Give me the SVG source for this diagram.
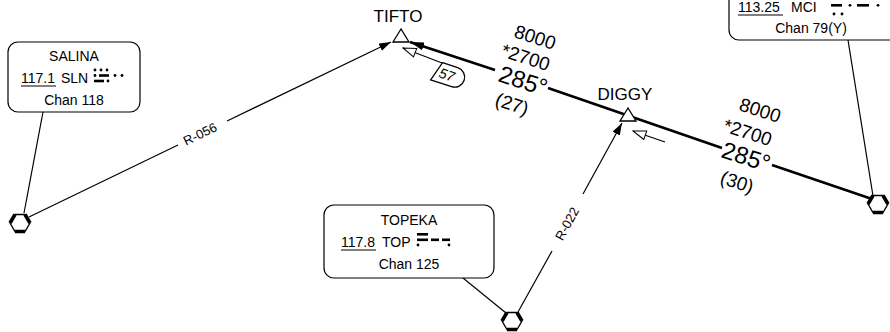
<svg xmlns="http://www.w3.org/2000/svg" width="890" height="332" viewBox="0 0 890 332">
<style>
text{font-family:"Liberation Sans",Arial,sans-serif;fill:#000}
.box{fill:#fff;stroke:#000;stroke-width:1.2}
.t14{font-size:14px}
.mid{text-anchor:middle}
.thin{fill:none;stroke:#000;stroke-width:1.2}
.thick{fill:none;stroke:#000;stroke-width:2.6}
.fix{fill:#fff;stroke:#000;stroke-width:1.3}
.alt{font-size:19px}
.crs{font-size:24px}
.lbl{font-size:13px}
</style>
<defs>
<marker id="fa" viewBox="0 0 12 8" refX="12" refY="4" markerWidth="12" markerHeight="8" orient="auto" markerUnits="userSpaceOnUse"><path d="M0,0 L12,4 L0,8 Z" fill="#000"/></marker>
<marker id="fb" viewBox="0 0 14 8" refX="14" refY="4" markerWidth="14" markerHeight="8" orient="auto" markerUnits="userSpaceOnUse"><path d="M0,0 L14,4 L0,8 Z" fill="#000"/></marker>
<marker id="oa" viewBox="-1 -1 15 11" refX="13" refY="4.5" markerWidth="15" markerHeight="11" orient="auto" markerUnits="userSpaceOnUse"><path d="M0,0 L13,4.5 L0,9 Z" fill="#fff" stroke="#000" stroke-width="1"/></marker>
<g id="vor">
<polygon points="-10,0 -5,-8.5 5,-8.5 10,0 5,8.5 -5,8.5" fill="#fff" stroke="#000" stroke-width="1.3"/>
<path d="M-10,0 L-5,-8.5 M5,-8.5 L10,0 M5,8.5 L-5,8.5" stroke="#000" stroke-width="3.6" fill="none"/>
</g>
</defs>

<g id="connectors">
<line class="thick" x1="495" y1="70" x2="410" y2="42" marker-end="url(#fb)"/>
<line class="thick" x1="548" y1="88" x2="722" y2="148"/>
<line class="thick" x1="772" y1="165" x2="872" y2="199"/>
<line class="thin" x1="29" y1="217" x2="178" y2="145"/>
<line class="thin" x1="227" y1="121" x2="391" y2="42" marker-end="url(#fa)"/>
<line class="thin" x1="518" y1="312" x2="552" y2="251"/>
<line class="thin" x1="583" y1="194" x2="622" y2="123" marker-end="url(#fa)"/>
<line class="thin" x1="43" y1="112" x2="24" y2="213"/>
<line class="thin" x1="463" y1="278" x2="506" y2="313"/>
<line class="thin" x1="848" y1="40" x2="873" y2="196"/>
<line class="thin" x1="442" y1="63" x2="403" y2="48" marker-end="url(#oa)"/>
<line class="thin" x1="665" y1="142" x2="633" y2="131" marker-end="url(#oa)"/>
</g>

<g id="leg1-labels">
<text class="alt" transform="translate(513,37) rotate(18)">8000</text>
<text class="alt" transform="translate(500,56) rotate(18)">*2700</text>
<text class="crs" transform="translate(497,81) rotate(18)">285°</text>
<text class="alt" transform="translate(494,105) rotate(18)">(27)</text>
</g>
<g id="leg2-labels">
<text class="alt" transform="translate(738,110) rotate(18)">8000</text>
<text class="alt" transform="translate(722,131) rotate(18)">*2700</text>
<text class="crs" transform="translate(720,157) rotate(18)">285°</text>
<text class="alt" transform="translate(719,183) rotate(18)">(30)</text>
</g>

<g id="r056-label"><text class="lbl mid" transform="translate(202,138) rotate(-26)">R-056</text></g>
<g id="r022-label"><text class="lbl mid" transform="translate(571,226) rotate(-61)">R-022</text></g>

<g id="mea-57">
<g transform="translate(448,75) rotate(18)">
<path d="M-9,-10 L7,-10 A10,10 0 0 1 7,10 L-15,10 Z" class="fix" stroke-width="1"/>
<text class="mid" x="-1" y="5" font-size="14" font-style="italic">57</text>
</g>
</g>

<g id="TIFTO">
<polygon class="fix" points="401,29 393,42 409,42"/>
<text x="398" y="22" class="mid" font-size="17">TIFTO</text>
</g>

<g id="DIGGY">
<polygon class="fix" points="628,108 620,121 636,121"/>
<text x="625" y="100" class="mid" font-size="17">DIGGY</text>
</g>

<g id="SALINA">
<rect class="box" x="8" y="42" width="132" height="70" rx="10"/>
<text class="t14 mid" x="74" y="61">SALINA</text>
<text class="t14" x="21" y="83">117.1</text>
<line x1="21" y1="86" x2="56" y2="86" stroke="#000" stroke-width="1"/>
<text class="t14" x="61" y="83">SLN</text>
<g fill="#000">
<circle cx="95" cy="70" r="1.4"/><circle cx="101" cy="70" r="1.4"/><circle cx="107" cy="70" r="1.4"/>
<circle cx="95" cy="75.5" r="1.4"/><rect x="99" y="74.2" width="10" height="2.6"/><circle cx="115" cy="75.5" r="1.4"/><circle cx="122" cy="75.5" r="1.4"/>
<rect x="94" y="79.7" width="10" height="2.6"/><circle cx="108" cy="81" r="1.4"/>
</g>
<text class="t14 mid" x="74" y="105">Chan 118</text>
</g>
<g id="SALINA-VOR"><use href="#vor" x="20" y="223"/></g>

<g id="TOPEKA">
<rect class="box" x="324" y="205" width="170" height="73" rx="10"/>
<text class="t14 mid" x="409" y="225">TOPEKA</text>
<text class="t14" x="341" y="247">117.8</text>
<line x1="341" y1="250" x2="376" y2="250" stroke="#000" stroke-width="1"/>
<text class="t14" x="382" y="247">TOP</text>
<g fill="#000">
<rect x="417" y="233" width="11" height="2.6"/>
<rect x="417" y="238.5" width="11" height="2.6"/><rect x="431" y="238.5" width="8" height="2.6"/><rect x="442" y="238.5" width="8" height="2.6"/>
<circle cx="418" cy="245" r="1.4"/><circle cx="449" cy="245" r="1.4"/>
</g>
<text class="t14 mid" x="409" y="269">Chan 125</text>
</g>
<g id="TOPEKA-VOR"><use href="#vor" x="512" y="321"/></g>

<g id="MCI">
<rect class="box" x="729" y="-20" width="170" height="60" rx="10"/>
<text class="t14" x="738" y="12">113.25</text>
<line x1="738" y1="15" x2="783" y2="15" stroke="#000" stroke-width="1"/>
<text class="t14" x="791" y="12">MCI</text>
<g fill="#000">
<rect x="831" y="4" width="11" height="2.6"/><circle cx="850" cy="5.3" r="1.4"/><rect x="857" y="4" width="12" height="2.6"/><circle cx="878" cy="5.3" r="1.4"/>
<circle cx="834" cy="14" r="1.4"/><circle cx="842" cy="14" r="1.4"/>
</g>
<text class="t14 mid" x="811" y="33">Chan 79(Y)</text>
</g>
<g id="MCI-VOR"><use href="#vor" x="878" y="204"/></g>
</svg>
